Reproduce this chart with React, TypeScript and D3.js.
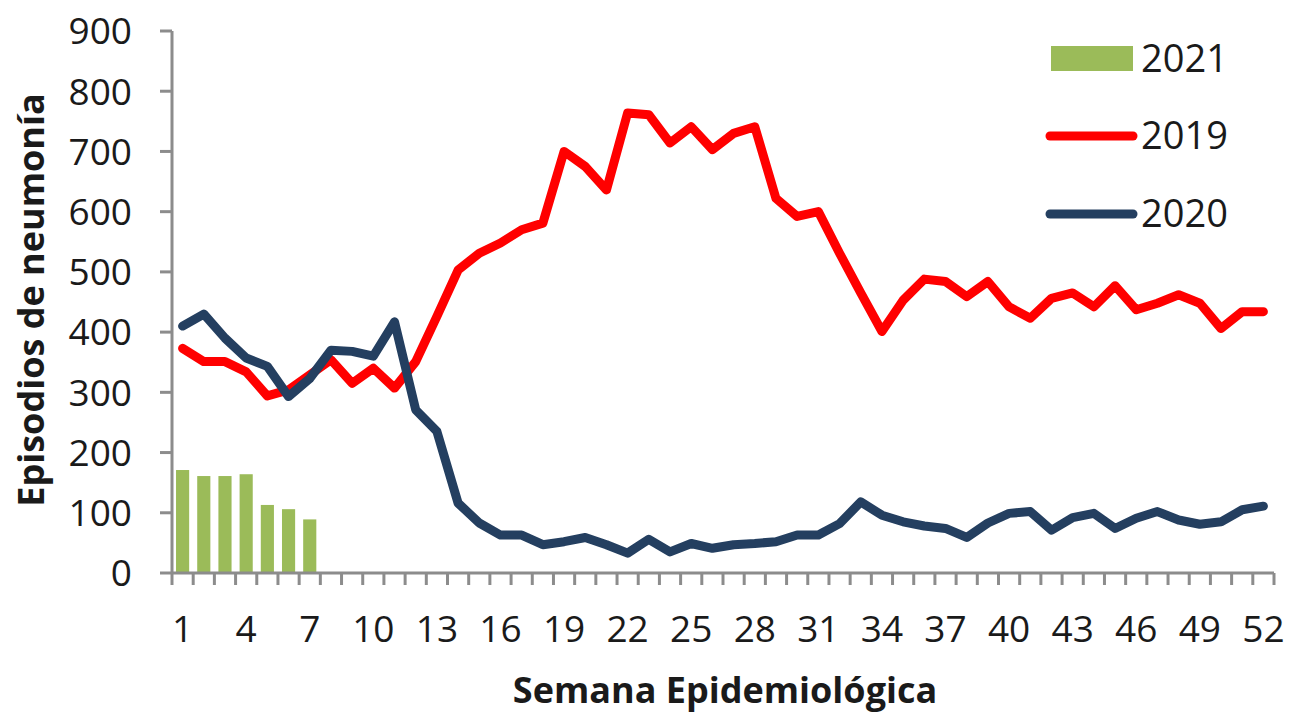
import React from 'react';
import * as d3 from 'd3';

// weeks 1..52
const weeks = d3.range(1, 53);
const tickWeeks = [1, 4, 7, 10, 13, 16, 19, 22, 25, 28, 31, 34, 37, 40, 43, 46, 49, 52];
const yTicks = [0, 100, 200, 300, 400, 500, 600, 700, 800, 900];

const values2021 = [171, 161, 161, 164, 113, 106, 89];

const values2019 = [
  373, 351, 351, 334, 294, 304, 329, 354, 315, 340,
  307, 351, 426, 503, 531, 548, 570, 581, 700, 675,
  636, 764, 761, 714, 741, 703, 730, 741, 622, 592,
  600, 531, 465, 401, 453, 488, 484, 459, 484, 442,
  423, 456, 465, 442, 477, 437, 448, 462, 448, 406,
  434, 434,
];

const values2020 = [
  410, 430, 390, 357, 343, 293, 323, 370, 368, 360,
  417, 271, 235, 116, 83, 63, 63, 47, 52, 59,
  47, 33, 56, 35, 49, 41, 47, 49, 52, 63,
  63, 82, 118, 96, 85, 78, 74, 59, 83, 99,
  102, 71, 92, 99, 74, 91, 102, 88, 81, 85,
  105, 111,
];

const W = 1296;
const H = 714;
const margin = { top: 31, right: 22, bottom: 141, left: 172 };

const COLORS = {
  y2021: '#9BBB59',
  y2019: '#FF0000',
  y2020: '#243F60',
  axis: '#8C8C8C',
  text: '#1a1a1a',
};

const FONT = "'Open Sans', 'Noto Sans', sans-serif";

export default function App() {
  React.useEffect(() => {
    document.body.style.margin = '0';
  }, []);

  const x = d3.scaleBand<number>()
    .domain(weeks)
    .range([margin.left, W - margin.right])
    .padding(0);

  const y = d3.scaleLinear()
    .domain([0, 900])
    .range([H - margin.bottom, margin.top]);

  const cx = (w: number) => (x(w) ?? 0) + x.bandwidth() / 2;
  const barW = x.bandwidth() * 0.62;

  const line = d3.line<number>()
    .x((_, i) => cx(weeks[i]))
    .y(d => y(d));

  const x0 = margin.left;
  const y0 = y(0);
  const xEnd = W - margin.right;

  return (
    <svg width={W} height={H} style={{ display: 'block', background: '#fff' }}>
      {/* bars 2021 */}
      {values2021.map((v, i) => (
        <rect
          key={i}
          x={cx(weeks[i]) - barW / 2}
          y={y(v)}
          width={barW}
          height={y0 - y(v)}
          fill={COLORS.y2021}
        />
      ))}

      {/* axes */}
      <g stroke={COLORS.axis} strokeWidth={3}>
        <line x1={x0} x2={x0} y1={y(900)} y2={y0} />
        <line x1={x0} x2={xEnd} y1={y0} y2={y0} />
        {yTicks.map(t => (
          <line key={t} x1={x0 - 12} x2={x0} y1={y(t)} y2={y(t)} />
        ))}
        {d3.range(0, 53).map(i => {
          const xx = x0 + i * x.bandwidth();
          return <line key={i} x1={xx} x2={xx} y1={y0} y2={y0 + 12} />;
        })}
      </g>

      {/* lines */}
      <path d={line(values2019) ?? ''} fill="none" stroke={COLORS.y2019} strokeWidth={9} strokeLinejoin="round" strokeLinecap="round" />
      <path d={line(values2020) ?? ''} fill="none" stroke={COLORS.y2020} strokeWidth={9} strokeLinejoin="round" strokeLinecap="round" />

      {/* y tick labels */}
      <g fontFamily={FONT} fontSize={37} fill={COLORS.text} textAnchor="end">
        {yTicks.map(t => (
          <text key={t} x={132} y={y(t)} dy="0.36em">{t}</text>
        ))}
      </g>

      {/* x tick labels */}
      <g fontFamily={FONT} fontSize={37} fill={COLORS.text} textAnchor="middle">
        {tickWeeks.map(w => (
          <text key={w} x={cx(w)} y={642}>{w}</text>
        ))}
      </g>

      {/* axis titles */}
      <text x={725} y={703} textAnchor="middle" fontFamily={FONT} fontWeight="bold" fontSize={36} fill={COLORS.text}>
        Semana Epidemiológica
      </text>
      <text
        transform={`translate(44, 300) rotate(-90)`}
        textAnchor="middle"
        fontFamily={FONT}
        fontWeight="bold"
        fontSize={36}
        fill={COLORS.text}
      >
        Episodios de neumonía
      </text>

      {/* legend */}
      <g fontFamily={FONT} fontSize={38} fill={COLORS.text}>
        <rect x={1051} y={46} width={82} height={25} fill={COLORS.y2021} />
        <text x={1141} y={72}>2021</text>
        <line x1={1050} x2={1133} y1={136} y2={136} stroke={COLORS.y2019} strokeWidth={9} strokeLinecap="round" />
        <text x={1141} y={149}>2019</text>
        <line x1={1050} x2={1133} y1={214} y2={214} stroke={COLORS.y2020} strokeWidth={9} strokeLinecap="round" />
        <text x={1141} y={227}>2020</text>
      </g>
    </svg>
  );
}
